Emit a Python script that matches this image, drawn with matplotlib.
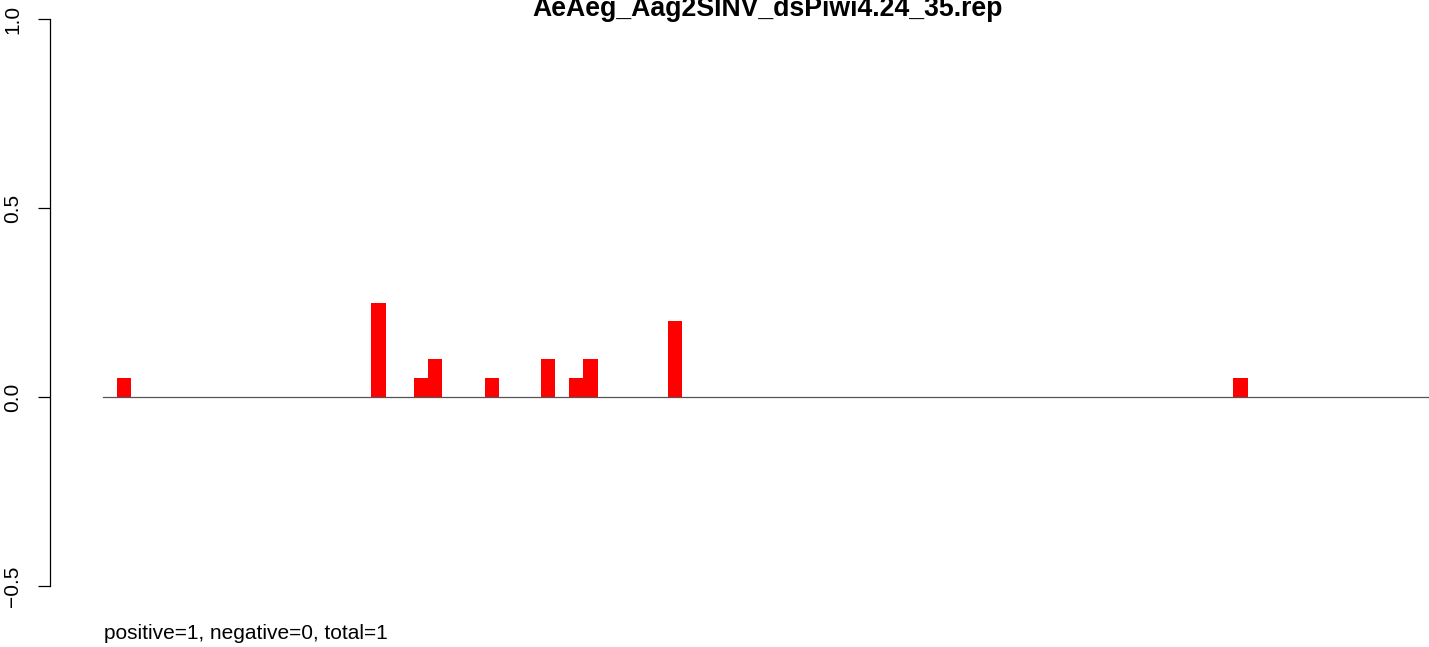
import matplotlib.pyplot as plt

# bar positions (bin index) and heights
positions = [1, 19, 22, 23, 27, 31, 33, 34, 40, 80]
heights = [0.05, 0.25, 0.05, 0.10, 0.05, 0.10, 0.05, 0.10, 0.20, 0.05]
yticks = [-0.5, 0.0, 0.5, 1.0]
ytick_labels = ['\u22120.5', '0.0', '0.5', '1.0']
title = 'AeAeg_Aag2SINV_dsPiwi4.24_35.rep'
note = 'positive=1, negative=0, total=1'

W, H = 1429, 647
fig = plt.figure(figsize=(W / 100, H / 100), dpi=100)
plt.rcParams['font.family'] = ['Liberation Sans', 'DejaVu Sans']

# axes from x=50px to the right edge, y from 0px to 600px (top-down)
ax = fig.add_axes([50 / W, (H - 600) / H, (W - 50) / W, 600 / H])

bw = 14.13  # px per bin
x0 = 103    # px of bin 0
ax.set_xlim((50 - x0) / bw, (W - x0) / bw)
ax.set_ylim((397 - 600) / 378, 397 / 378)

ax.bar(positions, heights, width=1, align='edge', color='#ff0000', linewidth=0)
ax.plot([0, 200], [0, 0], color='#555555', lw=0.9, zorder=1)

for s in ['top', 'right', 'bottom']:
    ax.spines[s].set_visible(False)
ax.spines['left'].set_bounds(-0.5, 1.0)
ax.spines['left'].set_linewidth(0.9)
ax.set_xticks([])
ax.set_yticks(yticks)
ax.set_yticklabels(ytick_labels, rotation=90, va='center', fontsize=15)
ax.tick_params(axis='y', length=9, width=0.9, pad=11)

fig.text(768 / W, 1 - 16 / H, title, ha='center', va='baseline',
         fontsize=19.2, fontweight='bold')
fig.text(104 / W, (H - 639) / H, note, ha='left', va='baseline', fontsize=15)

fig.savefig('out.png', dpi=100)
